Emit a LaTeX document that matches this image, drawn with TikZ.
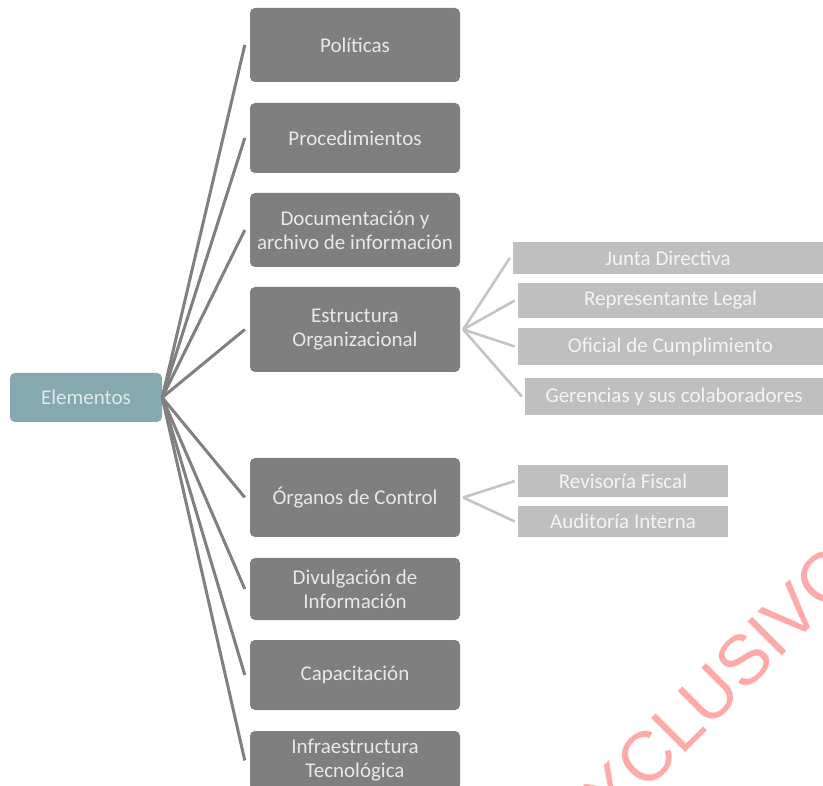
\documentclass[tikz,border=0pt]{standalone}
\usepackage{fontspec}
\setmainfont{Carlito}
\newfontfamily\wmfont{Liberation Sans}
\definecolor{dboxcol}{HTML}{7F7F7F}
\definecolor{lboxcol}{HTML}{BFBFBF}
\definecolor{rootcol}{HTML}{86A9AF}
\definecolor{mainline}{HTML}{808080}
\definecolor{subline}{HTML}{C4C4C4}
\definecolor{wmcol}{HTML}{FFAAAA}
\definecolor{dtext}{HTML}{E8E8E8}
\definecolor{ltext}{HTML}{F4F4F4}
\definecolor{rtext}{HTML}{DDE8EA}
\tikzset{
  dbox/.style={fill=dboxcol, draw=none, rounded corners=5pt, minimum width=210pt,
    inner sep=0pt, align=center, text=dtext, font=\fontsize{21}{24}\selectfont},
  lbox/.style={fill=lboxcol, draw=none, inner sep=0pt, align=center, text=ltext,
    font=\fontsize{21}{24}\selectfont},
  rootbox/.style={fill=rootcol, draw=none, rounded corners=5pt, inner sep=0pt,
    minimum width=152pt, minimum height=49pt, text=rtext, font=\fontsize{21}{24}\selectfont},
  mline/.style={draw=mainline, line width=3pt},
  sline/.style={draw=subline, line width=2.6pt},
  wmtext/.style={text=wmcol, font=\wmfont\fontsize{70}{70}\selectfont, inner sep=0pt}
}
\begin{document}
\begin{tikzpicture}[x=1pt,y=-1pt]
\useasboundingbox (0,0) rectangle (823,786);
\begin{scope}
\clip (0,0) rectangle (823,786);
\fill[white] (0,0) rectangle (823,786);
% root
\node[rootbox] (el) at (86,397.5) {Elementos};
% main boxes
\node[dbox, minimum height=74pt] (pol) at (355,45) {Políticas};
\node[dbox, minimum height=70pt] (pro) at (355,138) {Procedimientos};
\node[dbox, minimum height=74pt] (doc) at (355,230) {Documentación y\\archivo de información};
\node[dbox, minimum height=85pt] (est) at (355,329.5) {Estructura\\Organizacional};
\node[dbox, minimum height=79pt] (org) at (355,497.5) {Órganos de Control};
\node[dbox, minimum height=62pt] (div) at (355,589) {Divulgación de\\Información};
\node[dbox, minimum height=70pt] (cap) at (355,675) {Capacitación};
\node[dbox, minimum height=59pt] (inf) at (355,760.5) {Infraestructura\\Tecnológica};
% sub boxes of Estructura
\node[lbox, minimum width=310pt, minimum height=32pt] (jun) at (668,258) {Junta Directiva};
\node[lbox, minimum width=305pt, minimum height=35pt] (rep) at (670.5,300.5) {Representante Legal};
\node[lbox, minimum width=305pt, minimum height=37pt] (ofi) at (670.5,346.5) {Oficial de Cumplimiento};
\node[lbox, minimum width=298pt, minimum height=37pt] (ger) at (674,396.5) {Gerencias y sus colaboradores};
% sub boxes of Organos
\node[lbox, minimum width=210pt, minimum height=32pt] (rev) at (623,481) {Revisoría Fiscal};
\node[lbox, minimum width=210pt, minimum height=31pt] (aud) at (623,521.5) {Auditoría Interna};
% main connectors
\foreach \t in {pol,pro,doc,est,org,div,cap,inf}
  \draw[mline] (el.east) -- ([xshift=-5pt]\t.west);
% sub connectors
\foreach \t in {jun,rep,ofi,ger}
  \draw[sline] ([xshift=3pt]est.east) -- ([xshift=-3pt]\t.west);
\foreach \t in {rev,aud}
  \draw[sline] ([xshift=3pt]org.east) -- ([xshift=-3pt]\t.west);
% watermark
\node[wmtext, rotate=45] (wm) at (704,700) {EXCLUSIVO};
\end{scope}
\end{tikzpicture}
\end{document}
